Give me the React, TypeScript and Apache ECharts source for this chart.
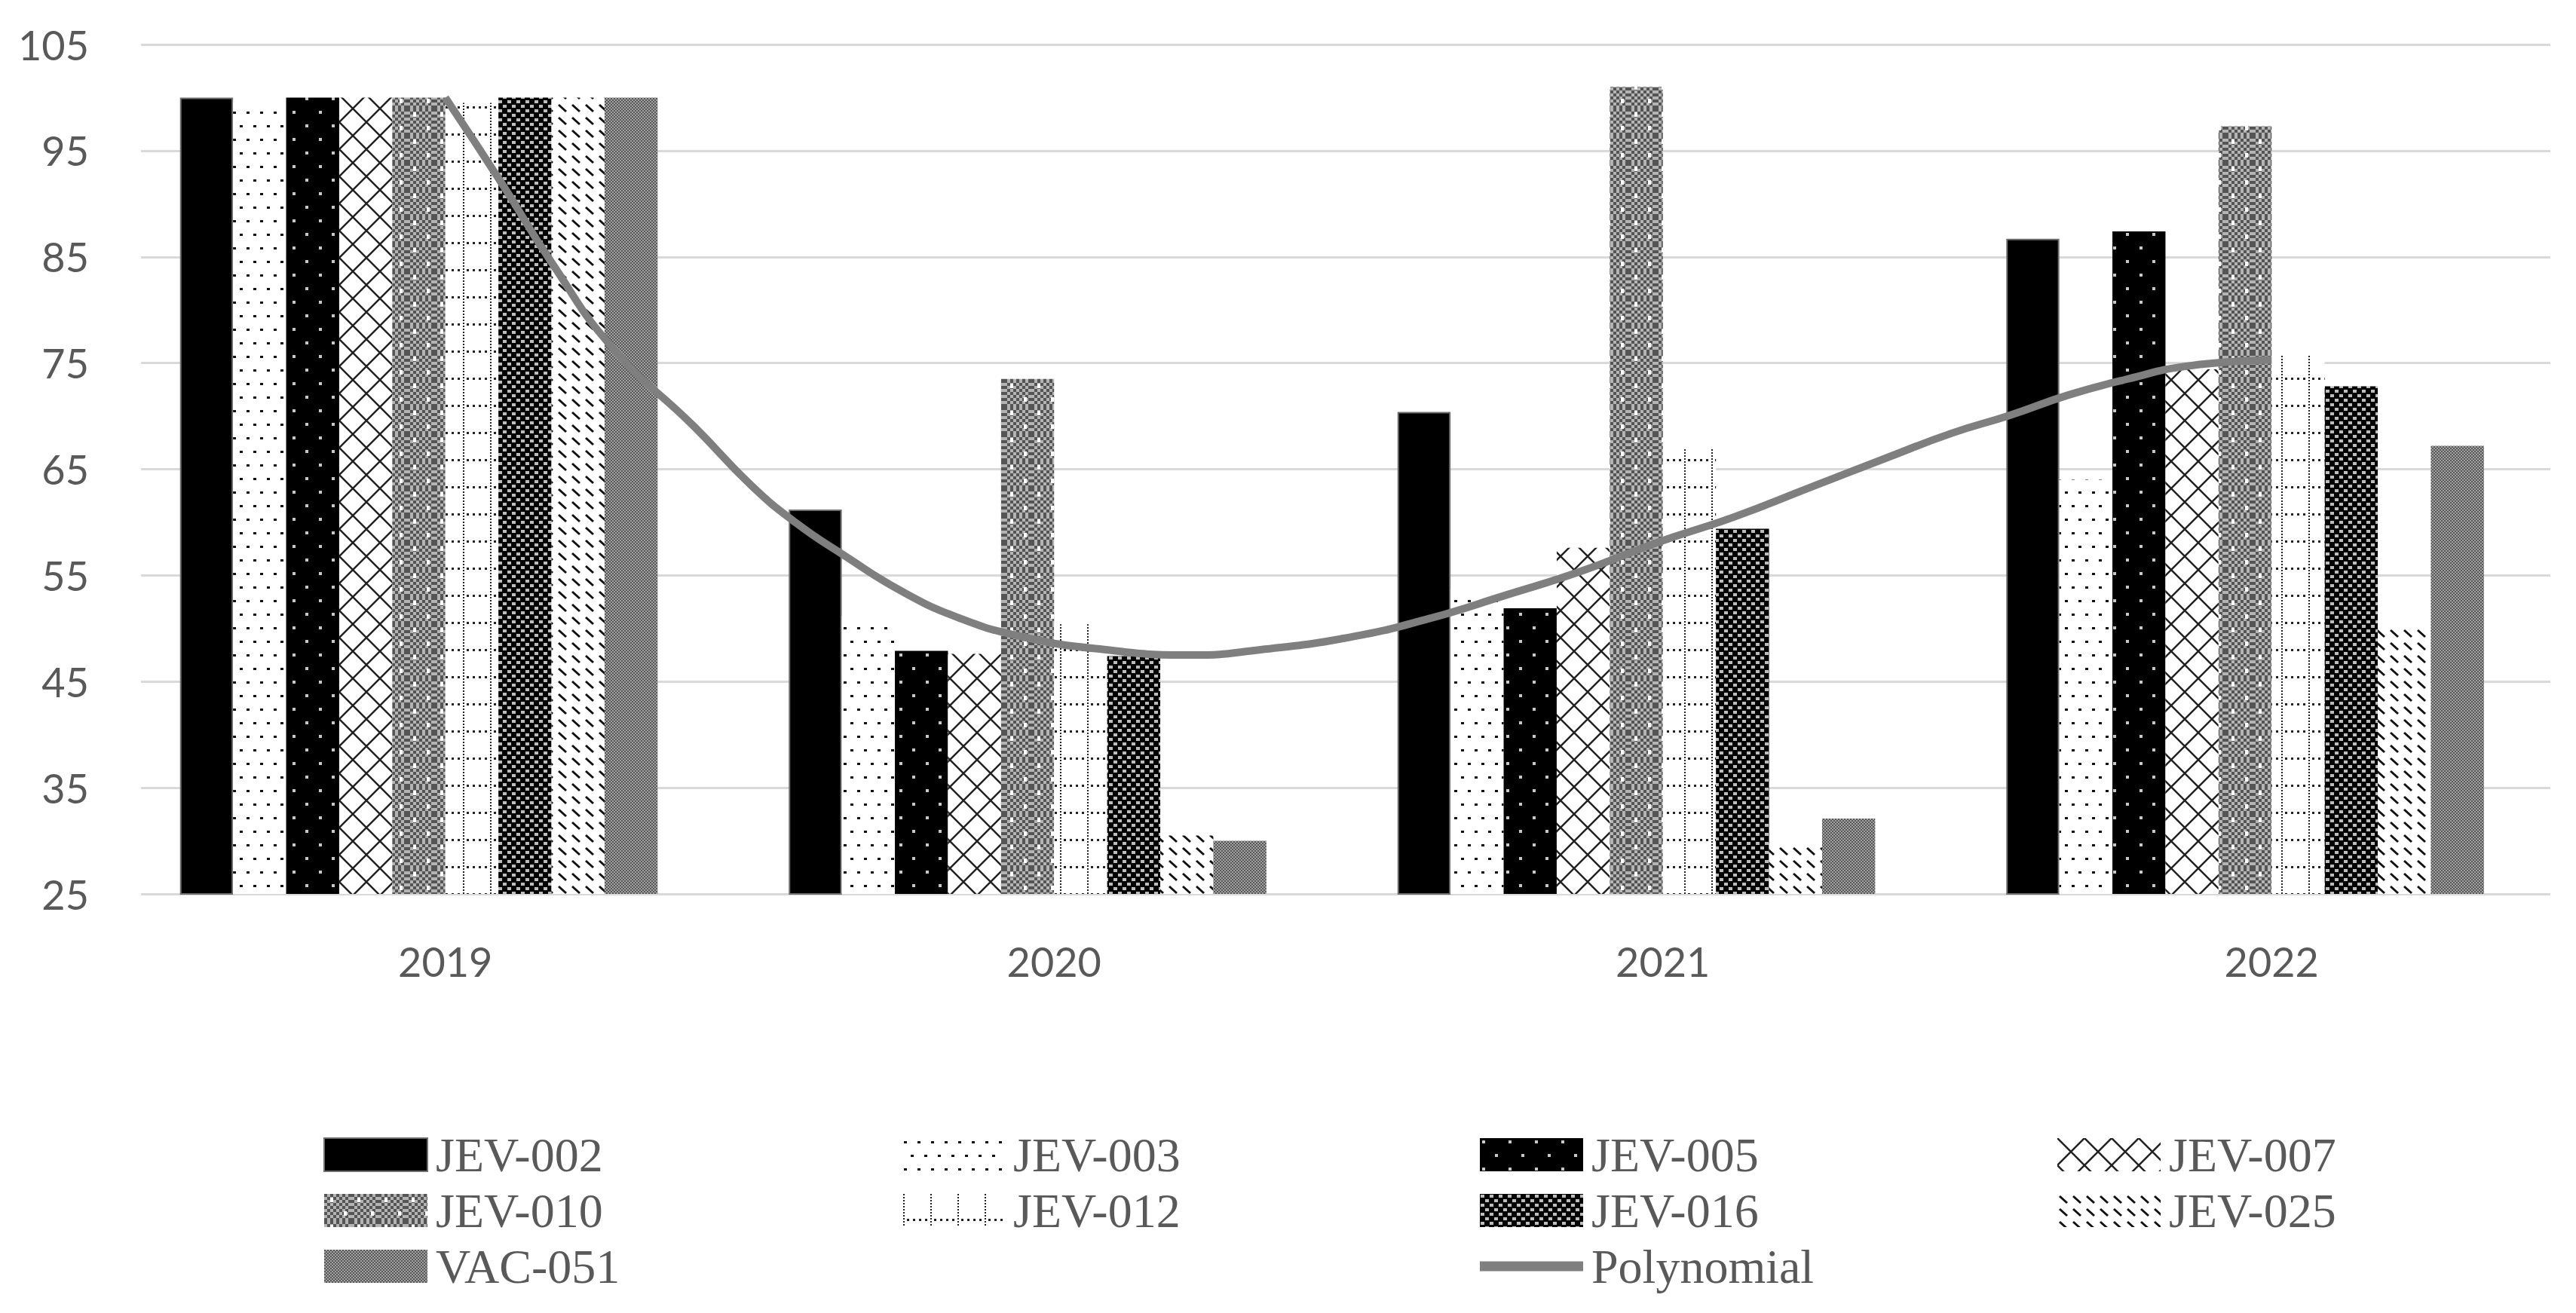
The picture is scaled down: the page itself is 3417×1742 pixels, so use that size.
import React, { useEffect, useRef } from "react";
import * as echarts from "echarts";

// ---------- data ----------
const categories = ["2019", "2020", "2021", "2022"];
const seriesNames = ["JEV-002", "JEV-003", "JEV-005", "JEV-007", "JEV-010", "JEV-012", "JEV-016", "JEV-025", "VAC-051"];
const jev002 = [100, 61.2, 70.4, 86.7];
const jev003 = [99.5, 51.2, 53.7, 64.0];
const jev005 = [100, 47.9, 51.9, 87.4];
const jev007 = [100, 47.6, 57.6, 74.4];
const jev010 = [100, 73.5, 101.0, 97.3];
const jev012 = [99.5, 50.4, 67.0, 75.7];
const jev016 = [100, 47.4, 59.4, 72.8];
const jev025 = [100, 30.5, 29.8, 50.3];
const vac051 = [100, 30.0, 32.1, 67.2];
const seriesValues = [jev002, jev003, jev005, jev007, jev010, jev012, jev016, jev025, vac051];
const hiddenSlot = [null, null, null, null];

// polynomial trend line (x in category units, 0 = 2019)
const trendX = [0, 0.094, 0.173, 0.275, 0.409, 0.502, 0.577, 0.652, 0.753, 0.848, 0.942, 1.068, 1.226, 1.339, 1.488, 1.614, 1.74, 1.866, 1.991, 2.117, 2.243, 2.369, 2.475, 2.571, 2.667, 2.764, 2.86, 3.0];
const trendY = [100, 91.8, 84.6, 76.4, 69.0, 63.5, 59.9, 57.0, 53.4, 50.9, 49.3, 48.1, 47.5, 48.0, 49.2, 50.9, 53.1, 55.4, 58.1, 60.5, 63.3, 66.1, 68.4, 70.1, 72.0, 73.5, 74.7, 75.3];

const yMin = 25;
const yMax = 105;
const yStep = 10;

// ---------- styles ----------
type Draw = (ctx: CanvasRenderingContext2D, w: number, h: number) => void;
function tile(w: number, h: number, draw: Draw) {
  const c = document.createElement("canvas");
  c.width = w;
  c.height = h;
  const ctx = c.getContext("2d") as CanvasRenderingContext2D;
  draw(ctx, w, h);
  return { image: c.toDataURL(), repeat: "repeat", imageWidth: w, imageHeight: h };
}

function makePatterns() {
  const p003 = tile(18, 36, (ctx, w, h) => {
    ctx.fillStyle = "#fff"; ctx.fillRect(0, 0, w, h);
    ctx.fillStyle = "#111";
    ctx.fillRect(3, 4, 4, 3); ctx.fillRect(12, 22, 4, 3);
  });
  const p005 = tile(35, 36, (ctx, w, h) => {
    ctx.fillStyle = "#000"; ctx.fillRect(0, 0, w, h);
    ctx.fillStyle = "#c8c8c8";
    ctx.fillRect(3, 3, 4, 4); ctx.fillRect(20, 21, 4, 4);
  });
  const p007 = tile(36, 36, (ctx, w, h) => {
    ctx.fillStyle = "#fff"; ctx.fillRect(0, 0, w, h);
    ctx.strokeStyle = "#222"; ctx.lineWidth = 2.5;
    ctx.beginPath(); ctx.moveTo(0, 0); ctx.lineTo(w, h); ctx.moveTo(w, 0); ctx.lineTo(0, h); ctx.stroke();
  });
  const p010 = tile(36, 36, (ctx, w, h) => {
    ctx.fillStyle = "#b4b4b4"; ctx.fillRect(0, 0, w, h);
    ctx.fillStyle = "#555555";
    for (let i = 0; i < w; i += 4) for (let j = 0; j < h; j += 4) if (((i + j) / 4) % 2 === 0) ctx.fillRect(i, j, 4, 4);
    ctx.fillStyle = "#fff";
    ctx.fillRect(8, 5, 4, 6); ctx.fillRect(26, 23, 4, 6);
  });
  const p012 = tile(36, 36, (ctx, w, h) => {
    ctx.fillStyle = "#fff"; ctx.fillRect(0, 0, w, h);
    ctx.fillStyle = "#222";
    for (let j = 0; j < h; j += 4) ctx.fillRect(2, j, 2, 2);
    for (let i = 7; i < w - 2; i += 8) ctx.fillRect(i, 33, 3, 3);
  });
  const p016 = tile(12, 12, (ctx, w, h) => {
    ctx.fillStyle = "#000"; ctx.fillRect(0, 0, w, h);
    ctx.fillStyle = "#bdbdbd";
    ctx.fillRect(1, 1, 5, 4); ctx.fillRect(7, 7, 5, 4);
  });
  const p025 = tile(18, 17, (ctx, w, h) => {
    ctx.fillStyle = "#fff"; ctx.fillRect(0, 0, w, h);
    ctx.strokeStyle = "#111"; ctx.lineWidth = 3;
    ctx.beginPath(); ctx.moveTo(3, 3); ctx.lineTo(13, 12); ctx.stroke();
  });
  const p051 = tile(4, 4, (ctx, w, h) => {
    ctx.fillStyle = "#a4a4a4"; ctx.fillRect(0, 0, w, h);
    ctx.fillStyle = "#555";
    ctx.fillRect(0, 0, 2, 2); ctx.fillRect(2, 2, 2, 2);
  });
  return ["#000000", p003, p005, p007, p010, p012, p016, p025, p051];
}

const axisFont = "Lato, 'Liberation Sans', sans-serif";
const legendFont = "'Liberation Serif', 'Times New Roman', serif";
const BAR_W = 70.4;

export default function App() {
  const ref = useRef<HTMLDivElement>(null);

  useEffect(() => {
    if (!ref.current) return;
    const chart = echarts.init(ref.current, undefined, { renderer: "svg" });
    const patterns = makePatterns();

    const bars: any[] = seriesNames.map((name, i) => ({
      type: "bar",
      name,
      data: seriesValues[i],
      xAxisIndex: 0,
      yAxisIndex: 0,
      barWidth: BAR_W,
      barGap: "0%",
      itemStyle: i === 0 ? { color: patterns[i], borderColor: "#6f6f6f", borderWidth: 2 } : { color: patterns[i] },
      z: 2,
    }));
    bars.push({
      type: "bar",
      name: "avg",
      data: hiddenSlot,
      xAxisIndex: 0,
      yAxisIndex: 0,
      barWidth: BAR_W,
      barGap: "0%",
      itemStyle: { color: "rgba(0,0,0,0)" },
      silent: true,
    });

    const legendText = {
      fontFamily: legendFont,
      fontSize: 64,
      color: "#595959",
      padding: [0, 0, 0, 6],
    };
    const legendBase = {
      orient: "vertical",
      top: 1500,
      height: 400,
      padding: 0,
      itemWidth: 137,
      itemHeight: 44,
      itemGap: 10,
      textStyle: legendText,
      selectedMode: false,
    };
    const rectItem = (name: string) => ({ name, icon: "rect" });

    chart.setOption({
      animation: false,
      backgroundColor: "#ffffff",
      grid: [
        { left: 187, top: 59, width: 3245, height: 1127 },
        { left: 187, top: 59, width: 3196, height: 1127 },
      ],
      xAxis: [
        {
          gridIndex: 0,
          type: "category",
          data: categories,
          axisLine: { show: false },
          axisTick: { show: false },
          splitLine: { show: false },
          axisLabel: { margin: 62, fontSize: 54, color: "#595959", fontFamily: axisFont },
        },
        { gridIndex: 0, type: "value", min: -0.5, max: 3.5, show: false },
        { gridIndex: 1, type: "category", data: categories, show: false },
      ],
      yAxis: [
        { gridIndex: 0, type: "value", min: yMin, max: yMax, interval: yStep, show: false, splitLine: { show: false } },
        {
          gridIndex: 1,
          type: "value",
          min: yMin,
          max: yMax,
          interval: yStep,
          axisLine: { show: false },
          axisTick: { show: false },
          axisLabel: { margin: 69, fontSize: 54, color: "#595959", fontFamily: axisFont },
          splitLine: { show: true, lineStyle: { color: "#d9d9d9", width: 3 } },
        },
      ],
      legend: [
        { ...legendBase, left: 429, data: [rectItem("JEV-002"), rectItem("JEV-010"), rectItem("VAC-051")] },
        { ...legendBase, left: 1196, data: [rectItem("JEV-003"), rectItem("JEV-012")] },
        {
          ...legendBase,
          left: 1963,
          data: [
            rectItem("JEV-005"),
            rectItem("JEV-016"),
            {
              name: "Polynomial",
              icon: "path://M0,0L137,0L137,13L0,13Z",
              itemStyle: { color: "#7f7f7f", borderWidth: 0 },
            },
          ],
        },
        { ...legendBase, left: 2729, data: [rectItem("JEV-007"), rectItem("JEV-025")] },
      ],
      series: [
        ...bars,
        {
          type: "line",
          name: "Polynomial",
          xAxisIndex: 1,
          yAxisIndex: 0,
          data: trendX.map((x, i) => [x, trendY[i]]),
          smooth: true,
          symbol: "none",
          lineStyle: { color: "#7f7f7f", width: 10 },
          itemStyle: { color: "#7f7f7f" },
          z: 5,
        },
      ],
    });

    return () => chart.dispose();
  }, []);

  return (
    <div
      ref={ref}
      style={{ position: "fixed", left: 0, top: 0, width: 3417, height: 1742, background: "#fff" }}
    />
  );
}
